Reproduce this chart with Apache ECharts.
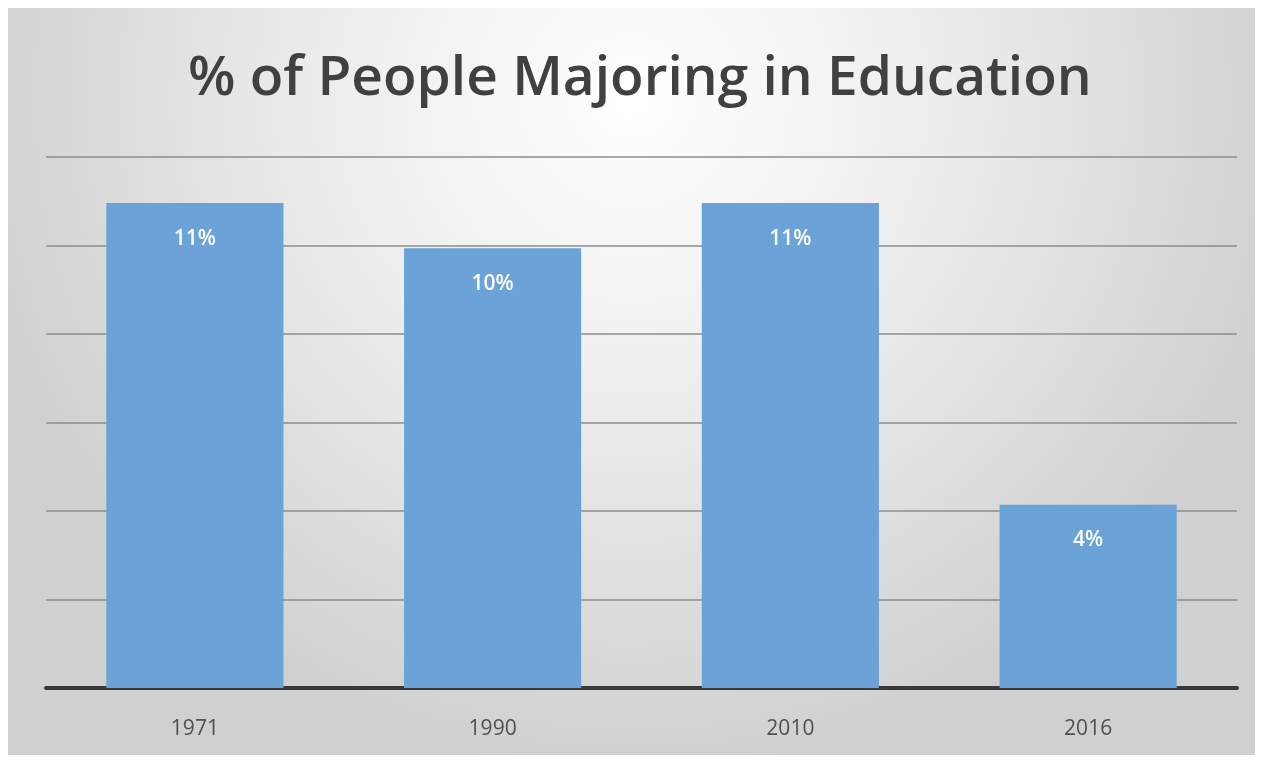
<!DOCTYPE html>
<html>
<head>
<meta charset="utf-8">
<script src="https://cdn.jsdelivr.net/npm/echarts@6/dist/echarts.min.js"></script>
<style>
  html, body { margin: 0; padding: 0; background: #ffffff; width: 1263px; height: 765px; overflow: hidden; }
  #chart { position: absolute; left: 8px; top: 8px; width: 1247px; height: 747px; }
</style>
</head>
<body>
<div id="chart"></div>
<script>
const categories = ['1971', '1990', '2010', '2016'];
const values = [10.96, 9.94, 10.96, 4.14];
const yTicks = [0, 2, 4, 6, 8, 10, 12];

const chart = echarts.init(document.getElementById('chart'), null, { renderer: 'canvas' });
chart.setOption({
  backgroundColor: {
    type: 'radial', x: 0.5, y: 0.12, r: 0.9,
    colorStops: [
      { offset: 0, color: '#ffffff' },
      { offset: 0.5, color: '#ebebeb' },
      { offset: 1, color: '#d0d0d0' }
    ]
  },
  animation: false,
  title: {
    text: '% of People Majoring in Education',
    left: 180,
    top: 44,
    padding: 0,
    textStyle: { fontFamily: 'Open Sans', fontWeight: 600, fontSize: 55, color: '#404040' }
  },
  grid: { left: 38, right: 18, top: 149, bottom: 67, containLabel: false },
  xAxis: {
    type: 'category',
    data: categories,
    axisLine: { lineStyle: { color: '#383838', width: 4 } },
    axisTick: { show: false },
    axisLabel: { color: '#505050', fontFamily: 'Open Sans', fontSize: 21, margin: 31 }
  },
  yAxis: {
    type: 'value',
    min: yTicks[0],
    max: yTicks[yTicks.length - 1],
    interval: yTicks[1] - yTicks[0],
    axisLabel: { show: false },
    axisLine: { show: false },
    axisTick: { show: false },
    splitLine: { lineStyle: { color: '#8c8c8c', width: 1.5 } }
  },
  series: [{
    type: 'bar',
    data: values,
    barWidth: '59.5%',
    itemStyle: { color: '#6ba3d8' },
    label: {
      show: true,
      position: 'insideTop',
      distance: 25,
      color: '#ffffff',
      fontFamily: 'Open Sans',
      fontWeight: 600,
      fontSize: 21,
      formatter: p => Math.round(p.value) + '%'
    }
  }]
});
</script>
</body>
</html>
